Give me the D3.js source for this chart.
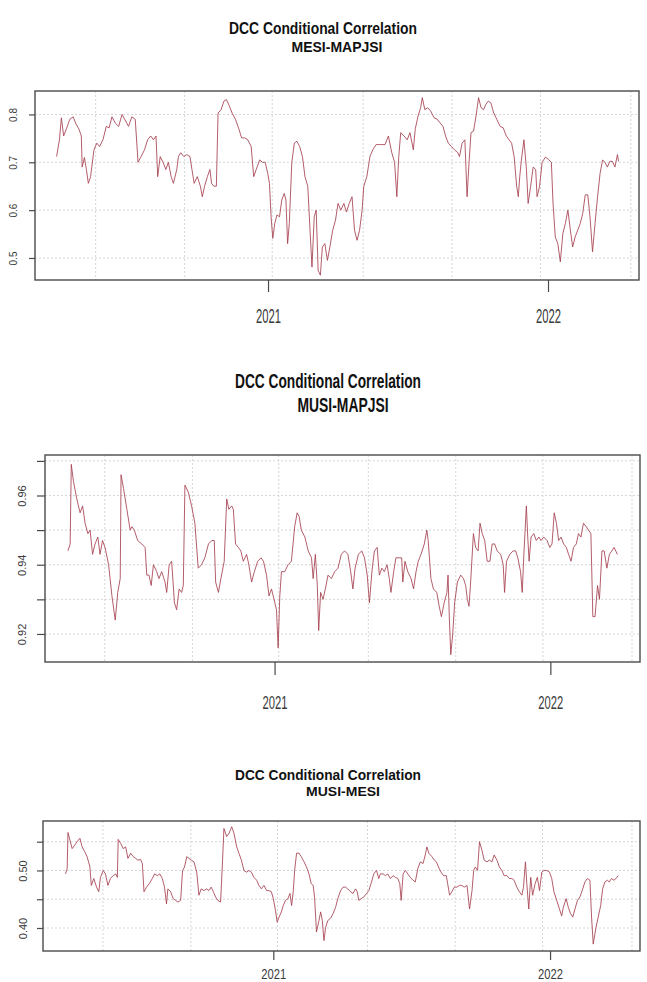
<!DOCTYPE html>
<html lang="en">
<head>
    <meta charset="UTF-8">
    <title>DCC Conditional Correlation</title>
    <style>
        html, body {
            margin: 0;
            padding: 0;
            background-color: #ffffff;
        }
        svg {
            display: block;
        }
        .title {
            font-family: "Liberation Sans", Arial, sans-serif;
            font-weight: bold;
            fill: #111111;
        }
        .axis text {
            font-family: "Liberation Sans", Arial, sans-serif;
            fill: #3a3a3a;
        }
    </style>
</head>
<body>
    <svg id="chart" width="647" height="982"></svg>
    <script src="https://d3js.org/d3.v7.min.js"></script>
    <script>
        // DATA (decimal years and correlation values)
        const mesiMapjsiYears = [2020.247,2020.257,2020.264,2020.272,2020.282,2020.294,2020.306,2020.316,2020.326,2020.335,2020.338,2020.346,2020.353,2020.360,2020.368,2020.380,2020.390,2020.400,2020.412,2020.424,2020.434,2020.444,2020.456,2020.468,2020.480,2020.493,2020.503,2020.515,2020.527,2020.537,2020.548,2020.560,2020.571,2020.582,2020.592,2020.601,2020.607,2020.616,2020.626,2020.636,2020.645,2020.655,2020.663,2020.675,2020.681,2020.689,2020.700,2020.710,2020.722,2020.729,2020.737,2020.748,2020.759,2020.766,2020.774,2020.784,2020.793,2020.799,2020.807,2020.816,2020.822,2020.833,2020.843,2020.852,2020.862,2020.872,2020.884,2020.896,2020.906,2020.917,2020.928,2020.940,2020.949,2020.958,2020.970,2020.980,2020.990,2020.999,2021.005,2021.011,2021.017,2021.024,2021.032,2021.041,2021.049,2021.058,2021.064,2021.070,2021.076,2021.085,2021.094,2021.103,2021.113,2021.123,2021.132,2021.142,2021.150,2021.157,2021.165,2021.172,2021.179,2021.187,2021.194,2021.203,2021.212,2021.221,2021.231,2021.241,2021.250,2021.260,2021.271,2021.280,2021.290,2021.300,2021.309,2021.318,2021.327,2021.336,2021.342,2021.353,2021.364,2021.374,2021.386,2021.398,2021.408,2021.418,2021.430,2021.442,2021.452,2021.460,2021.467,2021.474,2021.486,2021.497,2021.507,2021.519,2021.526,2021.536,2021.545,2021.551,2021.560,2021.570,2021.581,2021.593,2021.604,2021.615,2021.625,2021.634,2021.644,2021.655,2021.666,2021.678,2021.684,2021.693,2021.703,2021.711,2021.718,2021.725,2021.734,2021.743,2021.752,2021.761,2021.770,2021.778,2021.787,2021.796,2021.806,2021.817,2021.829,2021.840,2021.851,2021.861,2021.870,2021.879,2021.888,2021.894,2021.899,2021.905,2021.914,2021.923,2021.929,2021.938,2021.947,2021.956,2021.961,2021.970,2021.979,2021.991,2022.003,2022.012,2022.018,2022.026,2022.035,2022.044,2022.053,2022.062,2022.071,2022.080,2022.088,2022.097,2022.106,2022.115,2022.124,2022.133,2022.142,2022.150,2022.159,2022.168,2022.177,2022.186,2022.195,2022.203,2022.212,2022.221,2022.230,2022.239,2022.248,2022.252];
        const mesiMapjsiValues = [0.712,0.747,0.793,0.755,0.770,0.790,0.795,0.780,0.770,0.755,0.690,0.710,0.685,0.656,0.670,0.726,0.740,0.733,0.747,0.775,0.772,0.795,0.782,0.775,0.800,0.786,0.775,0.795,0.790,0.700,0.712,0.726,0.747,0.755,0.747,0.755,0.670,0.712,0.700,0.685,0.700,0.670,0.656,0.685,0.712,0.720,0.712,0.716,0.712,0.685,0.656,0.670,0.650,0.628,0.650,0.670,0.685,0.656,0.650,0.650,0.803,0.810,0.828,0.831,0.818,0.803,0.790,0.770,0.751,0.751,0.747,0.733,0.670,0.685,0.705,0.700,0.700,0.677,0.656,0.586,0.541,0.572,0.590,0.586,0.621,0.635,0.621,0.530,0.572,0.700,0.740,0.744,0.733,0.712,0.670,0.650,0.558,0.481,0.586,0.600,0.474,0.464,0.523,0.530,0.495,0.523,0.558,0.579,0.614,0.600,0.614,0.596,0.614,0.628,0.558,0.537,0.558,0.600,0.650,0.670,0.712,0.726,0.737,0.737,0.737,0.737,0.755,0.720,0.700,0.628,0.712,0.762,0.755,0.747,0.762,0.726,0.770,0.797,0.814,0.835,0.810,0.814,0.807,0.793,0.790,0.782,0.775,0.755,0.740,0.733,0.726,0.720,0.712,0.740,0.747,0.628,0.700,0.762,0.765,0.797,0.835,0.814,0.810,0.821,0.828,0.824,0.803,0.790,0.775,0.772,0.755,0.747,0.740,0.712,0.650,0.628,0.670,0.705,0.747,0.685,0.614,0.650,0.690,0.685,0.628,0.650,0.700,0.711,0.705,0.700,0.614,0.544,0.530,0.492,0.551,0.572,0.600,0.558,0.523,0.544,0.558,0.572,0.593,0.632,0.632,0.586,0.513,0.572,0.628,0.677,0.705,0.700,0.690,0.702,0.702,0.690,0.716,0.702];

        const musiMapjsiYears = [2020.253,2020.261,2020.265,2020.273,2020.285,2020.297,2020.306,2020.315,2020.325,2020.333,2020.342,2020.351,2020.361,2020.369,2020.378,2020.387,2020.400,2020.412,2020.424,2020.433,2020.442,2020.445,2020.454,2020.466,2020.478,2020.484,2020.493,2020.505,2020.520,2020.532,2020.538,2020.546,2020.554,2020.562,2020.574,2020.582,2020.592,2020.604,2020.610,2020.619,2020.628,2020.638,2020.646,2020.655,2020.664,2020.670,2020.676,2020.688,2020.700,2020.712,2020.724,2020.736,2020.748,2020.761,2020.773,2020.782,2020.787,2020.797,2020.806,2020.818,2020.827,2020.835,2020.845,2020.851,2020.859,2020.869,2020.878,2020.887,2020.899,2020.907,2020.917,2020.927,2020.939,2020.951,2020.960,2020.971,2020.980,2020.989,2021.001,2021.007,2021.013,2021.019,2021.025,2021.037,2021.049,2021.061,2021.073,2021.082,2021.089,2021.097,2021.110,2021.122,2021.134,2021.140,2021.148,2021.155,2021.160,2021.167,2021.176,2021.184,2021.194,2021.206,2021.218,2021.230,2021.242,2021.254,2021.266,2021.276,2021.284,2021.292,2021.304,2021.316,2021.326,2021.336,2021.344,2021.353,2021.362,2021.372,2021.380,2021.389,2021.398,2021.408,2021.416,2021.422,2021.432,2021.440,2021.452,2021.461,2021.465,2021.473,2021.483,2021.495,2021.504,2021.513,2021.521,2021.531,2021.543,2021.552,2021.557,2021.567,2021.576,2021.588,2021.597,2021.605,2021.615,2021.625,2021.629,2021.634,2021.639,2021.646,2021.653,2021.663,2021.675,2021.685,2021.693,2021.699,2021.705,2021.711,2021.721,2021.729,2021.738,2021.745,2021.753,2021.762,2021.771,2021.781,2021.789,2021.798,2021.807,2021.820,2021.829,2021.834,2021.841,2021.853,2021.865,2021.874,2021.882,2021.892,2021.898,2021.904,2021.913,2021.918,2021.923,2021.930,2021.940,2021.949,2021.958,2021.966,2021.976,2021.988,2021.998,2022.006,2022.014,2022.022,2022.030,2022.039,2022.048,2022.058,2022.066,2022.075,2022.084,2022.094,2022.102,2022.111,2022.120,2022.130,2022.138,2022.147,2022.154,2022.162,2022.171,2022.178,2022.187,2022.195,2022.205,2022.214,2022.223,2022.231,2022.243];
        const musiMapjsiValues = [0.944,0.946,0.969,0.964,0.959,0.955,0.957,0.952,0.949,0.950,0.943,0.946,0.948,0.943,0.947,0.945,0.940,0.931,0.924,0.932,0.936,0.966,0.962,0.956,0.950,0.951,0.950,0.947,0.946,0.945,0.937,0.937,0.934,0.940,0.938,0.936,0.938,0.935,0.932,0.940,0.941,0.929,0.927,0.933,0.932,0.934,0.963,0.961,0.957,0.952,0.939,0.940,0.942,0.946,0.947,0.947,0.935,0.932,0.936,0.941,0.959,0.956,0.957,0.956,0.946,0.945,0.944,0.941,0.943,0.940,0.935,0.938,0.941,0.942,0.941,0.937,0.931,0.933,0.929,0.927,0.916,0.931,0.938,0.938,0.940,0.941,0.951,0.955,0.954,0.950,0.948,0.944,0.942,0.936,0.943,0.934,0.921,0.932,0.930,0.933,0.937,0.936,0.938,0.939,0.943,0.944,0.943,0.938,0.933,0.939,0.943,0.944,0.942,0.937,0.929,0.938,0.944,0.945,0.937,0.939,0.938,0.940,0.936,0.932,0.938,0.942,0.942,0.942,0.935,0.941,0.938,0.936,0.933,0.938,0.941,0.943,0.946,0.950,0.947,0.936,0.933,0.932,0.928,0.925,0.929,0.932,0.937,0.924,0.914,0.920,0.929,0.935,0.937,0.936,0.934,0.930,0.928,0.935,0.949,0.945,0.944,0.952,0.949,0.947,0.941,0.941,0.946,0.946,0.944,0.943,0.940,0.932,0.941,0.943,0.944,0.944,0.942,0.938,0.932,0.943,0.957,0.948,0.941,0.948,0.949,0.947,0.948,0.947,0.948,0.947,0.945,0.946,0.955,0.952,0.947,0.948,0.946,0.945,0.943,0.941,0.945,0.946,0.949,0.948,0.952,0.951,0.950,0.949,0.925,0.925,0.934,0.930,0.944,0.944,0.939,0.943,0.944,0.945,0.943];

        const musiMesiYears = [2020.251,2020.257,2020.260,2020.267,2020.275,2020.284,2020.293,2020.303,2020.311,2020.320,2020.329,2020.339,2020.344,2020.353,2020.363,2020.371,2020.377,2020.387,2020.395,2020.404,2020.413,2020.423,2020.432,2020.438,2020.441,2020.450,2020.459,2020.468,2020.476,2020.486,2020.495,2020.504,2020.512,2020.522,2020.528,2020.534,2020.543,2020.553,2020.564,2020.572,2020.582,2020.591,2020.600,2020.608,2020.615,2020.620,2020.630,2020.639,2020.648,2020.656,2020.666,2020.673,2020.680,2020.688,2020.696,2020.704,2020.714,2020.724,2020.732,2020.740,2020.750,2020.760,2020.768,2020.776,2020.784,2020.792,2020.800,2020.810,2020.816,2020.822,2020.832,2020.841,2020.850,2020.858,2020.868,2020.876,2020.885,2020.894,2020.904,2020.912,2020.921,2020.930,2020.940,2020.948,2020.957,2020.966,2020.976,2020.984,2020.993,2021.000,2021.008,2021.014,2021.020,2021.029,2021.036,2021.044,2021.053,2021.060,2021.066,2021.072,2021.077,2021.084,2021.093,2021.101,2021.111,2021.120,2021.129,2021.137,2021.144,2021.149,2021.156,2021.165,2021.171,2021.177,2021.183,2021.189,2021.197,2021.207,2021.216,2021.225,2021.233,2021.243,2021.252,2021.261,2021.269,2021.279,2021.288,2021.297,2021.303,2021.309,2021.317,2021.327,2021.337,2021.345,2021.353,2021.363,2021.373,2021.381,2021.387,2021.397,2021.405,2021.413,2021.423,2021.433,2021.441,2021.450,2021.457,2021.462,2021.469,2021.477,2021.486,2021.495,2021.505,2021.513,2021.522,2021.531,2021.541,2021.549,2021.555,2021.562,2021.573,2021.582,2021.589,2021.597,2021.606,2021.615,2021.625,2021.630,2021.637,2021.645,2021.654,2021.663,2021.673,2021.681,2021.690,2021.700,2021.709,2021.718,2021.724,2021.730,2021.738,2021.745,2021.754,2021.762,2021.772,2021.781,2021.790,2021.798,2021.808,2021.817,2021.826,2021.834,2021.844,2021.853,2021.862,2021.870,2021.880,2021.889,2021.898,2021.904,2021.911,2021.916,2021.923,2021.930,2021.937,2021.946,2021.954,2021.962,2021.970,2021.978,2021.988,2021.998,2022.006,2022.014,2022.024,2022.034,2022.042,2022.048,2022.058,2022.066,2022.074,2022.082,2022.090,2022.099,2022.108,2022.118,2022.126,2022.135,2022.144,2022.150,2022.156,2022.166,2022.174,2022.183,2022.190,2022.198,2022.207,2022.214,2022.222,2022.231,2022.238,2022.246];
        const musiMesiValues = [0.494,0.503,0.566,0.553,0.538,0.544,0.550,0.556,0.541,0.533,0.524,0.506,0.474,0.486,0.471,0.463,0.488,0.500,0.494,0.474,0.486,0.491,0.494,0.488,0.554,0.547,0.538,0.541,0.521,0.530,0.524,0.521,0.518,0.519,0.512,0.463,0.471,0.477,0.486,0.494,0.491,0.494,0.486,0.471,0.442,0.468,0.463,0.451,0.448,0.445,0.448,0.500,0.506,0.524,0.521,0.518,0.515,0.497,0.457,0.468,0.465,0.468,0.465,0.471,0.463,0.454,0.448,0.445,0.506,0.573,0.559,0.565,0.576,0.565,0.541,0.530,0.518,0.500,0.497,0.500,0.497,0.488,0.483,0.474,0.468,0.474,0.465,0.465,0.463,0.451,0.430,0.410,0.418,0.428,0.439,0.448,0.451,0.460,0.439,0.463,0.500,0.530,0.530,0.524,0.515,0.506,0.494,0.477,0.474,0.454,0.393,0.413,0.428,0.413,0.378,0.401,0.413,0.417,0.425,0.436,0.451,0.465,0.471,0.471,0.468,0.463,0.460,0.468,0.463,0.448,0.451,0.454,0.460,0.465,0.477,0.494,0.500,0.486,0.494,0.494,0.491,0.494,0.486,0.491,0.488,0.486,0.477,0.448,0.494,0.500,0.494,0.488,0.483,0.480,0.503,0.515,0.512,0.527,0.541,0.530,0.524,0.518,0.515,0.506,0.497,0.491,0.491,0.477,0.457,0.463,0.471,0.471,0.474,0.474,0.471,0.474,0.433,0.465,0.500,0.506,0.500,0.550,0.535,0.518,0.515,0.518,0.515,0.527,0.518,0.506,0.500,0.491,0.491,0.486,0.486,0.483,0.471,0.463,0.457,0.471,0.515,0.477,0.433,0.488,0.457,0.477,0.488,0.465,0.497,0.500,0.500,0.497,0.486,0.463,0.448,0.433,0.421,0.436,0.451,0.436,0.425,0.419,0.433,0.448,0.454,0.468,0.480,0.486,0.483,0.419,0.372,0.401,0.419,0.439,0.468,0.480,0.483,0.480,0.486,0.483,0.486,0.491];

        // AXIS TICKS AND LABELS
        const yearTicks = [2021, 2022];
        const gridYears = [2020.386, 2020.703, 2021.015, 2021.340, 2021.657, 2021.973, 2022.296];
        const mesiMapjsiTicks = [0.5, 0.6, 0.7, 0.8];
        const mesiMapjsiTickLabels = ["0.5", "0.6", "0.7", "0.8"];
        const musiMapjsiTicks = [0.92, 0.93, 0.94, 0.95, 0.96, 0.97];
        const musiMapjsiTickLabels = ["0.92", "", "0.94", "", "0.96", ""];
        const musiMesiTicks = [0.40, 0.45, 0.50, 0.55];
        const musiMesiTickLabels = ["0.40", "", "0.50", ""];

        const titleMain = "DCC Conditional Correlation";
        const pairNames = ["MESI-MAPJSI", "MUSI-MAPJSI", "MUSI-MESI"];

        // decimal year -> Date
        const toDate = (y) => {
            const yr = Math.floor(y);
            const a = Date.UTC(yr, 0, 1), b = Date.UTC(yr + 1, 0, 1);
            return new Date(a + (y - yr) * (b - a));
        };

        // the three pasted panels do not share the same size, so each gets its own box
        const panels = [
            {
                years: mesiMapjsiYears, values: mesiMapjsiValues, name: pairNames[0],
                yTicks: mesiMapjsiTicks, yLabels: mesiMapjsiTickLabels, yDomain: [0.454, 0.849],
                box: {left: 35, right: 639, top: 91, bottom: 280},
                title: {x1: 323, y1: 34, len1: 188, x2: 337, y2: 52, len2: 91, size1: 16, size2: 15},
                yLab: {x: 13.5, size: 10, tick: 6},
                xLab: {y: 323, size: 20, len: 25, tick: 12}
            },
            {
                years: musiMapjsiYears, values: musiMapjsiValues, name: pairNames[1],
                yTicks: musiMapjsiTicks, yLabels: musiMapjsiTickLabels, yDomain: [0.9119, 0.9717],
                box: {left: 45, right: 640, top: 455, bottom: 662},
                title: {x1: 328, y1: 388, len1: 186, x2: 343, y2: 412, len2: 91, size1: 20, size2: 20},
                yLab: {x: 22.5, size: 11, tick: 8},
                xLab: {y: 709, size: 18, len: 25, tick: 13}
            },
            {
                years: musiMesiYears, values: musiMesiValues, name: pairNames[2],
                yTicks: musiMesiTicks, yLabels: musiMesiTickLabels, yDomain: [0.360, 0.586],
                box: {left: 43, right: 640, top: 821, bottom: 951},
                title: {x1: 328, y1: 780, len1: 186, x2: 343, y2: 796, len2: 74, size1: 15, size2: 13},
                yLab: {x: 23.5, size: 11, tick: 6},
                xLab: {y: 979, size: 15, len: 25, tick: 9}
            }
        ];

        const svg = d3.select("#chart");
        const xDomain = [toDate(2020.17), toDate(2022.325)];

        panels.forEach((p) => {
            const g = svg.append("g");
            const b = p.box;

            const x = d3.scaleUtc().domain(xDomain).range([b.left, b.right]);
            const y = d3.scaleLinear().domain(p.yDomain).range([b.bottom, b.top]);

            // TITLE
            g.append("text")
                .attr("class", "title")
                .attr("x", p.title.x1).attr("y", p.title.y1)
                .attr("text-anchor", "middle")
                .attr("font-size", p.title.size1)
                .attr("textLength", p.title.len1)
                .attr("lengthAdjust", "spacingAndGlyphs")
                .text(titleMain);
            g.append("text")
                .attr("class", "title")
                .attr("x", p.title.x2).attr("y", p.title.y2)
                .attr("text-anchor", "middle")
                .attr("font-size", p.title.size2)
                .attr("textLength", p.title.len2)
                .attr("lengthAdjust", "spacingAndGlyphs")
                .text(p.name);

            // GRID
            g.append("g")
                .selectAll("line")
                .data(p.yTicks).enter()
                .append("line")
                .attr("x1", b.left).attr("x2", b.right)
                .attr("y1", (d) => y(d)).attr("y2", (d) => y(d))
                .attr("stroke", "#d6d6d6")
                .attr("stroke-dasharray", "2,2");
            g.append("g")
                .selectAll("line")
                .data(gridYears).enter()
                .append("line")
                .attr("x1", (d) => x(toDate(d))).attr("x2", (d) => x(toDate(d)))
                .attr("y1", b.top).attr("y2", b.bottom)
                .attr("stroke", "#d6d6d6")
                .attr("stroke-dasharray", "2,2");

            // SERIES
            const series = p.years.map((yr, i) => ({date: toDate(yr), value: p.values[i]}));
            const line = d3.line()
                .x((d) => x(d.date))
                .y((d) => y(d.value));
            g.append("path")
                .datum(series)
                .attr("d", line)
                .attr("fill", "none")
                .attr("stroke", "#a5404f")
                .attr("stroke-width", 0.85)
                .attr("stroke-linejoin", "round");

            // FRAME
            g.append("rect")
                .attr("x", b.left).attr("y", b.top)
                .attr("width", b.right - b.left)
                .attr("height", b.bottom - b.top)
                .attr("fill", "none")
                .attr("stroke", "#4a4a4a")
                .attr("stroke-width", 1.4);

            // X AXIS
            const xAxis = g.append("g")
                .attr("class", "axis")
                .attr("transform", `translate(0, ${b.bottom})`)
                .call(d3.axisBottom(x)
                    .tickValues(yearTicks.map(toDate))
                    .tickFormat(d3.utcFormat("%Y"))
                    .tickSize(p.xLab.tick)
                    .tickSizeOuter(0));
            xAxis.select(".domain").remove();
            xAxis.selectAll(".tick line").attr("stroke", "#4a4a4a").attr("stroke-width", 1.2);
            xAxis.selectAll(".tick text")
                .attr("y", p.xLab.y - b.bottom)
                .attr("dy", 0)
                .attr("font-size", p.xLab.size)
                .attr("textLength", p.xLab.len)
                .attr("lengthAdjust", "spacingAndGlyphs");

            // Y AXIS
            const yAxis = g.append("g")
                .attr("class", "axis")
                .attr("transform", `translate(${b.left}, 0)`)
                .call(d3.axisLeft(y)
                    .tickValues(p.yTicks)
                    .tickFormat((d, i) => p.yLabels[i])
                    .tickSize(p.yLab.tick)
                    .tickSizeOuter(0));
            yAxis.select(".domain").remove();
            yAxis.selectAll(".tick line").attr("stroke", "#4a4a4a").attr("stroke-width", 1.2);
            yAxis.selectAll(".tick text")
                .attr("x", 0).attr("y", 0)
                .attr("dy", "0.35em")
                .attr("text-anchor", "middle")
                .attr("font-size", p.yLab.size)
                .attr("transform", `translate(${p.yLab.x - b.left}, 0) rotate(-90)`);
        });
    </script>
</body>
</html>
